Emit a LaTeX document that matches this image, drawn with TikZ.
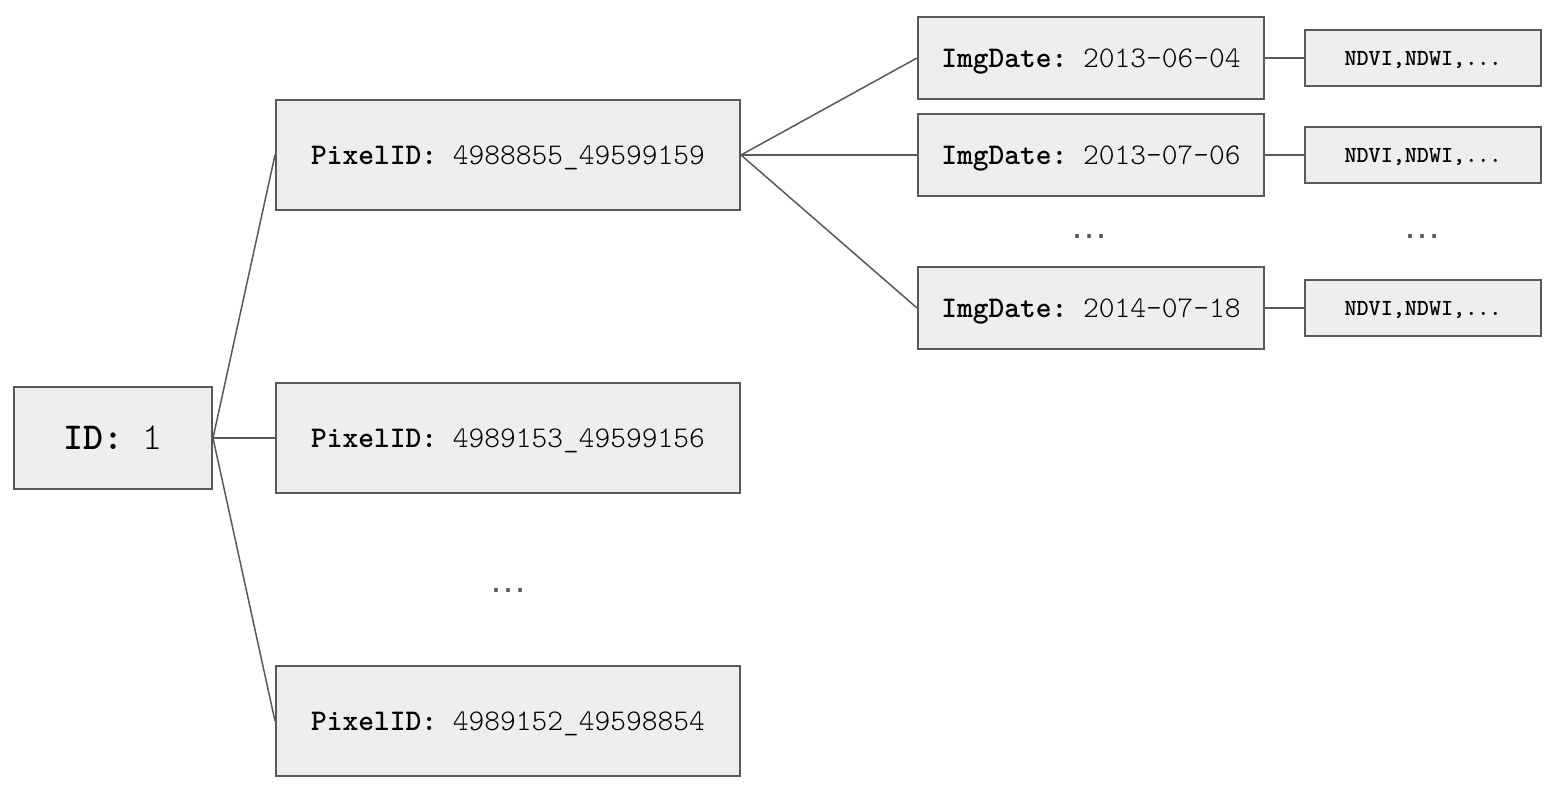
\documentclass[tikz,border=0pt]{standalone}
\usepackage{fontspec}
\setmonofont{Latin Modern Mono Light}
\newfontfamily\gapfont{Liberation Sans}
\definecolor{boxfill}{HTML}{EEEEEE}
\definecolor{edgegray}{HTML}{595959}
\tikzset{
  databox/.style={draw=edgegray, fill=boxfill, line width=1pt, inner sep=0pt, text depth=0pt},
  idbox/.style={databox, minimum width=99pt, minimum height=51pt,
    font=\ttfamily\fontsize{19}{22}\selectfont},
  pixbox/.style={databox, minimum width=232pt, minimum height=55pt,
    font=\ttfamily\fontsize{15}{17}\selectfont},
  datebox/.style={databox, minimum width=173pt, minimum height=41pt,
    font=\ttfamily\fontsize{15}{17}\selectfont},
  bandbox/.style={databox, minimum width=118pt, minimum height=28pt,
    font=\ttfamily\bfseries\fontsize{11.5}{13}\selectfont},
  link/.style={draw=edgegray, line width=0.75pt},
  gap/.style={text=edgegray, inner sep=0pt, font=\gapfont\fontsize{19}{20}\selectfont}
}
\begin{document}
\begin{tikzpicture}[x=0.5pt,y=-0.5pt]
    \useasboundingbox (0,0) rectangle (1558,796);
    % root
    \node[idbox] (id) at (113,438) {\textbf{ID:} 1};
    % pixels
    \node[pixbox] (pix1) at (508,155) {\textbf{PixelID:} 4988855\_49599159};
    \node[pixbox] (pix2) at (508,438) {\textbf{PixelID:} 4989153\_49599156};
    \node[gap] (pixgap) at (508,590) {…};
    \node[pixbox] (pix3) at (508,721) {\textbf{PixelID:} 4989152\_49598854};
    % image dates
    \node[datebox] (date1) at (1091,58) {\textbf{ImgDate:} 2013-06-04};
    \node[datebox] (date2) at (1091,155) {\textbf{ImgDate:} 2013-07-06};
    \node[gap] (dategap) at (1089,236) {…};
    \node[datebox] (date3) at (1091,308) {\textbf{ImgDate:} 2014-07-18};
    % bands
    \node[bandbox] (band1) at (1423,58) {NDVI,NDWI,...};
    \node[bandbox] (band2) at (1423,155) {NDVI,NDWI,...};
    \node[gap] (bandgap) at (1422,236) {…};
    \node[bandbox] (band3) at (1423,308) {NDVI,NDWI,...};
    % links
    \foreach \p in {pix1,pix2,pix3}{
      \draw[link] (id.east)--(\p.west);
    }
    \foreach \d in {date1,date2,date3}{
      \draw[link] (pix1.east)--(\d.west);
    }
    \foreach \d/\b in {date1/band1,date2/band2,date3/band3}{
      \draw[link] (\d.east)--(\b.west);
    }
\end{tikzpicture}
\end{document}
